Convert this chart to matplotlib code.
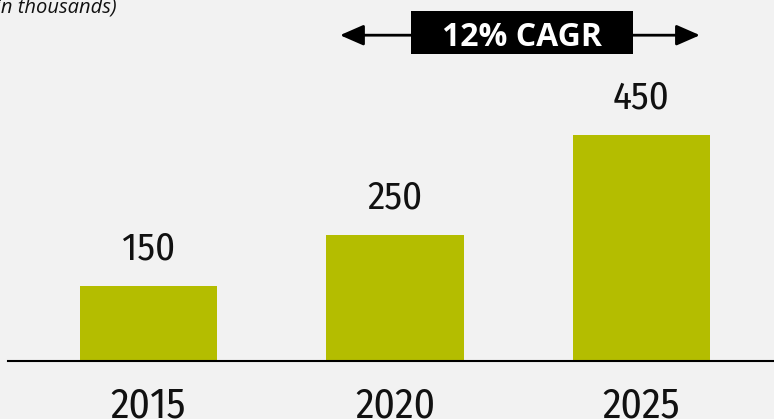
import matplotlib
matplotlib.use("Agg")
import matplotlib.pyplot as plt
from matplotlib.patches import Rectangle
from matplotlib.transforms import blended_transform_factory

years = ["2015", "2020", "2025"]
values = [150, 250, 450]
value_labels = ["150", "250", "450"]
cagr_text = "12% CAGR"
unit_note = "(in thousands)"

bg = "#f2f2f2"
bar_color = "#b4bd00"
narrow = ["Fira Sans Condensed", "Open Sans", "DejaVu Sans"]

fig = plt.figure(figsize=(7.74, 4.19), dpi=100, facecolor=bg)
ax = fig.add_axes([8 / 774, 58 / 419, 1 - 8 / 774, 361 / 419])
ax.set_facecolor(bg)

x = range(len(years))
ax.bar(x, values, width=0.556, color=bar_color, zorder=2)
ax.set_xlim(-0.570, 2.5375)
ax.set_ylim(0, 718)

# value labels above bars
for i, v in enumerate(values):
    ax.annotate(value_labels[i], (i, v), xytext=(0, 19), textcoords="offset points",
                ha="center", va="baseline", fontsize=28, family=narrow, color="#111111")

# year labels at the bottom of the figure
trans = blended_transform_factory(ax.transData, fig.transFigure)
for i, y in enumerate(years):
    ax.text(i, 2 / 419, y, transform=trans, ha="center", va="baseline",
            fontsize=30, family=narrow, color="#111111")

# baseline
for s in ["top", "right", "left"]:
    ax.spines[s].set_visible(False)
ax.spines["bottom"].set_linewidth(1.5)
ax.spines["bottom"].set_color("black")
ax.set_xticks([])
ax.set_yticks([])

# CAGR box with arrows
box_l, box_r = 1.065, 1.966
box_b, box_t = 611, 696
arrow_y = 648
ax.add_patch(Rectangle((box_l, box_b), box_r - box_l, box_t - box_b,
                       facecolor="black", edgecolor="none", zorder=3, clip_on=False))
ax.text((box_l + box_r) / 2, 626.5, cagr_text, ha="center", va="baseline",
        fontsize=23, fontweight="bold", family=["Open Sans", "DejaVu Sans"],
        color="white", zorder=4)
arrow_kw = dict(arrowstyle="-|>,head_length=0.8,head_width=0.35", lw=2,
                color="black", mutation_scale=18, shrinkA=0, shrinkB=0)
ax.annotate("", xy=(0.777, arrow_y), xytext=(box_l, arrow_y), arrowprops=arrow_kw)
ax.annotate("", xy=(2.237, arrow_y), xytext=(box_r, arrow_y), arrowprops=arrow_kw)

fig.text(117 / 774, 1 - 12 / 419, unit_note, ha="right", va="baseline",
         fontsize=14.5, style="italic", family=["Open Sans", "DejaVu Sans"],
         color="#111111")

fig.savefig("out.png", dpi=100, facecolor=bg)
